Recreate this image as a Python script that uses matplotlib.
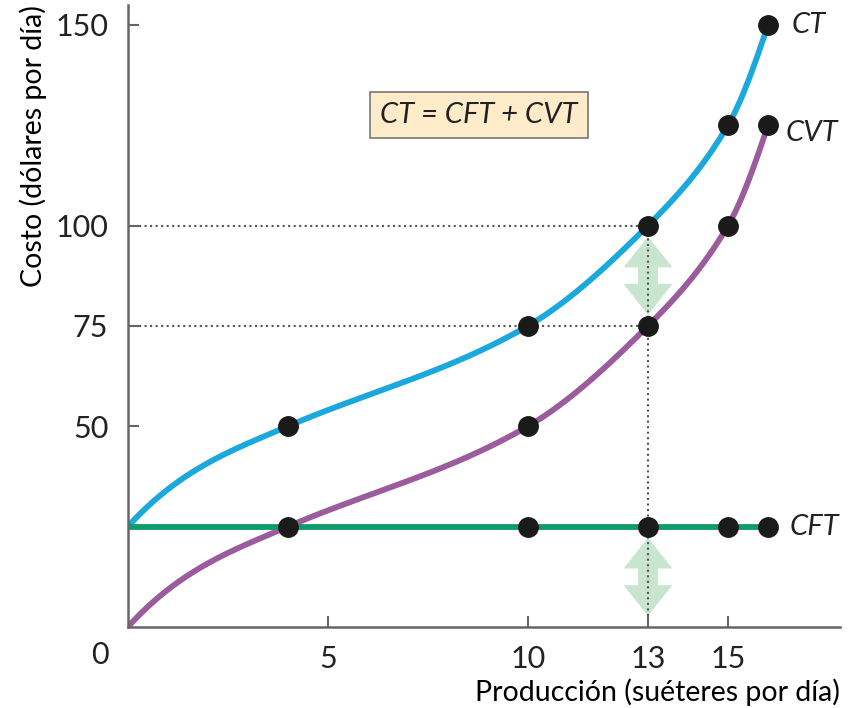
import numpy as np
import matplotlib.pyplot as plt
from matplotlib.patches import FancyArrowPatch

# output (sweaters per day) and costs (dollars per day)
q_cft = [4, 10, 13, 15, 16]
cft = [25, 25, 25, 25, 25]
q_cv = [0, 4, 10, 13, 15, 16]
cvt = [0, 25, 50, 75, 100, 125]
ct = [25, 50, 75, 100, 125, 150]

xticks = [5, 10, 13, 15]
yticks = [50, 75, 100, 150]

plt.rcParams['font.family'] = ['Lato', 'DejaVu Sans']

# tangents used to draw the smooth cost curves through the dots
tangents = [11, 4.3, 5.8, 10, 17, 30]


def hermite(x, y, m, xs):
    x = np.asarray(x, float)
    y = np.asarray(y, float)
    m = np.asarray(m, float)
    h = np.diff(x)
    idx = np.clip(np.searchsorted(x, xs) - 1, 0, len(x) - 2)
    t = (xs - x[idx]) / h[idx]
    h00 = (1 + 2 * t) * (1 - t) ** 2
    h10 = t * (1 - t) ** 2
    h01 = t ** 2 * (3 - 2 * t)
    h11 = t ** 2 * (t - 1)
    return (h00 * y[idx] + h10 * h[idx] * m[idx]
            + h01 * y[idx + 1] + h11 * h[idx] * m[idx + 1])


fig = plt.figure(figsize=(8.52, 7.08), dpi=100)
ax = fig.add_axes([0.150, 0.1144, 0.836, 0.879])
ax.set_xlim(0, 17.8)
ax.set_ylim(0, 155)

blue = '#1ba8dc'
purple = '#9a5c9c'
green = '#0f9b6c'
dot = '#1a1a1a'
grid = '#555555'

# guide lines to the 13-sweater point
ax.plot([0, q_cv[3]], [ct[3], ct[3]], ls=':', color=grid, lw=1.5, zorder=1)
ax.plot([0, q_cv[3]], [cvt[3], cvt[3]], ls=':', color=grid, lw=1.5, zorder=1)

# double arrows showing the fixed-cost gap
for lo, hi in [(cvt[3], ct[3]), (0, cft[2])]:
    mid = (lo + hi) / 2
    for end in (lo, hi):
        arr = FancyArrowPatch((q_cv[3], mid), (q_cv[3], end),
                              arrowstyle='simple,head_width=2.7,head_length=1.7,tail_width=1.1',
                              mutation_scale=13, color='#c8e5cf', lw=0,
                              shrinkA=0, shrinkB=8, zorder=0.5)
        ax.add_patch(arr)

ax.plot([q_cv[3], q_cv[3]], [0, ct[3]], ls=':', color=grid, lw=1.5, zorder=1)

xs = np.linspace(0, 16, 400)
ax.plot(xs, hermite(q_cv, ct, tangents, xs), color=blue, lw=4.2, zorder=2, solid_capstyle='butt')
ax.plot(xs, hermite(q_cv, cvt, tangents, xs), color=purple, lw=4.2, zorder=2, solid_capstyle='butt')
ax.plot([0, q_cft[-1]], [cft[0], cft[-1]], color=green, lw=4.2, zorder=2)

ax.plot(q_cv[1:], ct[1:], 'o', color=dot, ms=14, zorder=3)
ax.plot(q_cv[2:], cvt[2:], 'o', color=dot, ms=14, zorder=3)
ax.plot(q_cft, cft, 'o', color=dot, ms=14, zorder=3)

ax.text(16.6, 150, 'CT', fontsize=21, style='italic', va='center', ha='left', color='#222222')
ax.text(16.45, 123, 'CVT', fontsize=21, style='italic', va='center', ha='left', color='#222222')
ax.text(16.55, 25, 'CFT', fontsize=21, style='italic', va='center', ha='left', color='#222222')

ax.text(8.78, 127.5, 'CT = CFT + CVT', fontsize=21, style='italic', ha='center', va='center',
        color='#222222',
        bbox=dict(boxstyle='square,pad=0.35', fc='#fdebc9', ec='#777777', lw=1.2))

for s in ['top', 'right']:
    ax.spines[s].set_visible(False)
for s in ['left', 'bottom']:
    ax.spines[s].set_color('#666666')
    ax.spines[s].set_linewidth(1.8)

ax.set_xticks(xticks)
ax.set_yticks(yticks)
ax.tick_params(direction='in', length=8, width=1.5, color='#666666',
               labelsize=22, colors='#222222')
ax.tick_params(axis='x', pad=13)
ax.tick_params(axis='y', pad=14)
ax.text(-0.7, -7, '0', fontsize=22, ha='center', va='center', color='#222222')

ax.set_xlabel('Producción (suéteres por día)', fontsize=20.5, loc='right', labelpad=4)
ax.set_ylabel('Costo (dólares por día)', fontsize=20.5, loc='top', labelpad=6)

fig.savefig('out.png', dpi=100)
